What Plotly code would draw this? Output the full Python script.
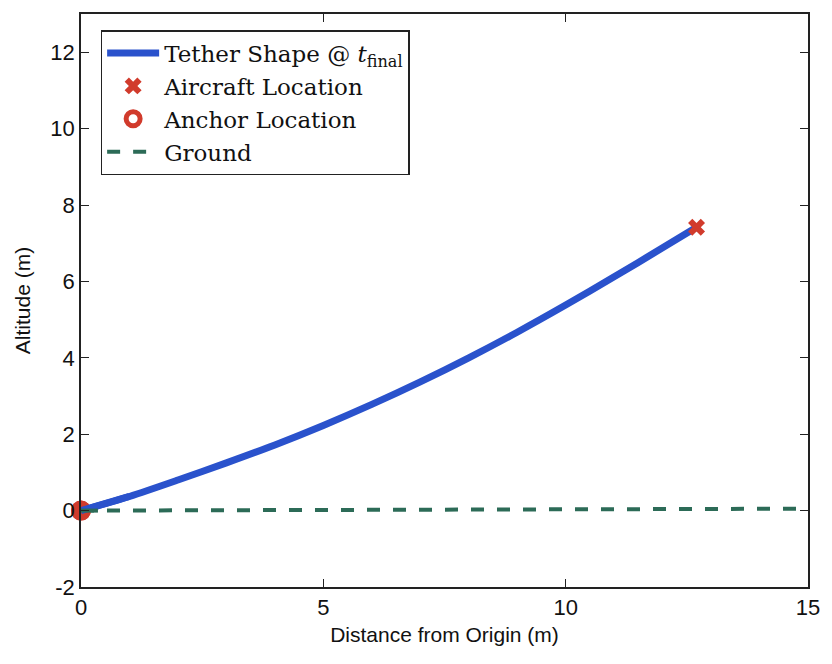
import plotly.graph_objects as go

# Data
tether_x = [0, 1, 2, 3, 4, 5, 6, 7, 8, 9, 10, 11, 12, 12.7]
tether_y = [0, 0.37, 0.8, 1.25, 1.72, 2.23, 2.78, 3.37, 4.0, 4.67, 5.38, 6.12, 6.88, 7.42]
aircraft_x = [12.7]
aircraft_y = [7.42]
anchor_x = [0]
anchor_y = [0]
ground_x = [0, 15]
ground_y = [0, 0.05]
x_ticks = [0, 5, 10, 15]
y_ticks = [-2, 0, 2, 4, 6, 8, 10, 12]
y_tick_labels = ["-2", "0", "2", "4", "6", "8", "10", "12"]

blue = "#2a52cc"
red = "#d13b2c"
green = "#2c6b57"

fig = go.Figure()
fig.add_trace(go.Scatter(x=tether_x, y=tether_y, mode="lines",
                         line=dict(color=blue, width=7, shape="spline", smoothing=0.8),
                         name="Tether Shape @ <i>t</i><sub>final</sub>"))
fig.add_trace(go.Scatter(x=aircraft_x, y=aircraft_y, mode="markers",
                         marker=dict(symbol="x", size=15, color=red, line=dict(width=0)),
                         name="Aircraft Location", cliponaxis=False))
fig.add_trace(go.Scatter(x=anchor_x, y=anchor_y, mode="markers",
                         marker=dict(symbol="circle", size=14, color="white",
                                     line=dict(color=red, width=6)),
                         name="Anchor Location", cliponaxis=False))
fig.add_trace(go.Scatter(x=ground_x, y=ground_y, mode="lines",
                         line=dict(color=green, width=4, dash="13px,13px"),
                         name="Ground"))
# anchor drawn on top in the plot (legend hidden)
fig.add_trace(go.Scatter(x=anchor_x, y=anchor_y, mode="markers",
                         marker=dict(symbol="circle", size=20, color=red),
                         showlegend=False, cliponaxis=False, hoverinfo="skip"))
fig.add_trace(go.Scatter(x=tether_x[:2], y=tether_y[:2], mode="lines",
                         line=dict(color=blue, width=7),
                         showlegend=False, hoverinfo="skip"))
fig.add_trace(go.Scatter(x=[ground_x[0], 0.35], y=[ground_y[0], ground_y[0]], mode="lines",
                         line=dict(color=green, width=4),
                         showlegend=False, hoverinfo="skip"))

axis_common = dict(showline=True, linecolor="#222", linewidth=1.5, mirror="ticks",
                   ticks="inside", ticklen=8, tickcolor="#222", showgrid=False,
                   zeroline=False,
                   tickfont=dict(family="Liberation Sans, Arial", size=22, color="#111"),
                   title_font=dict(family="Liberation Sans, Arial", size=21, color="#111"))

fig.update_xaxes(range=[0, 15], tickvals=x_ticks, title_text="Distance from Origin (m)",
                 title_standoff=8, **axis_common)
fig.update_yaxes(range=[-2, 13], tickvals=y_ticks, ticktext=y_tick_labels,
                 title_text="Altitude (m)", title_standoff=14, **axis_common)

fig.update_layout(
    width=832, height=664,
    margin=dict(l=81, r=16, t=12, b=77),
    plot_bgcolor="white", paper_bgcolor="white",
    legend=dict(x=0.027, y=0.972, xanchor="left", yanchor="top",
                bordercolor="#222", borderwidth=1.5, bgcolor="white",
                font=dict(family="DejaVu Serif, Liberation Serif", size=23, color="#111"),
                tracegroupgap=0, itemwidth=52),
    showlegend=True,
)

fig.write_html("out.html")
